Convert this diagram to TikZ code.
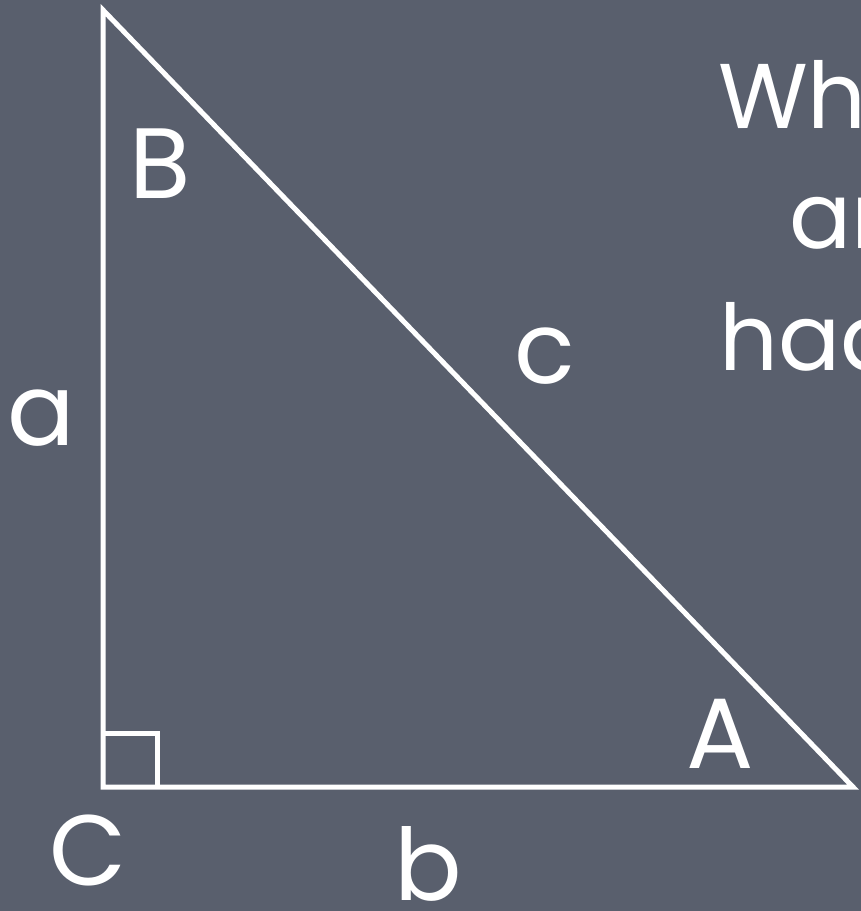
\documentclass[tikz,border=0pt]{standalone}
\usepackage{fontspec}
\setmainfont{Poppins}
\definecolor{board}{RGB}{89,95,109}
\begin{document}
\begin{tikzpicture}[x=1pt,y=-1pt,every node/.style={text=white,inner sep=0pt,font=\fontsize{100}{110}\selectfont},
  side/.style={draw=white,line width=5pt,line join=miter}]
  \fill[board] (0,0) rectangle (861,911);
  \useasboundingbox (0,0) rectangle (861,911);
  \coordinate (vB) at (103,10);
  \coordinate (vC) at (103,787);
  \coordinate (vA) at (853,787);
  \draw[side] (vB)--(vC)--(vA)--cycle;
  \draw[side] ([yshift=54pt]vC) -| ([xshift=54pt]vC);
  % vertex and side labels
  \node[anchor=base] (lB) at (160,198) {B};
  \node[anchor=base] (lA) at (720,768) {A};
  \node[anchor=base] (lC) at (88,885) {C};
  \node[anchor=base] (la) at (41,445) {a};
  \node[anchor=base] (lb) at (428,900) {b};
  \node[anchor=base] (lc) at (545,383) {c};
  % text cut off at the right edge
  \node[anchor=base west,font=\fontsize{92}{100}\selectfont] (t1) at (718,128) {Wh};
  \node[anchor=base west,font=\fontsize{92}{100}\selectfont] (t2) at (789,248) {ar};
  \node[anchor=base west,font=\fontsize{92}{100}\selectfont] (t3) at (719,370) {had};
\end{tikzpicture}
\end{document}
